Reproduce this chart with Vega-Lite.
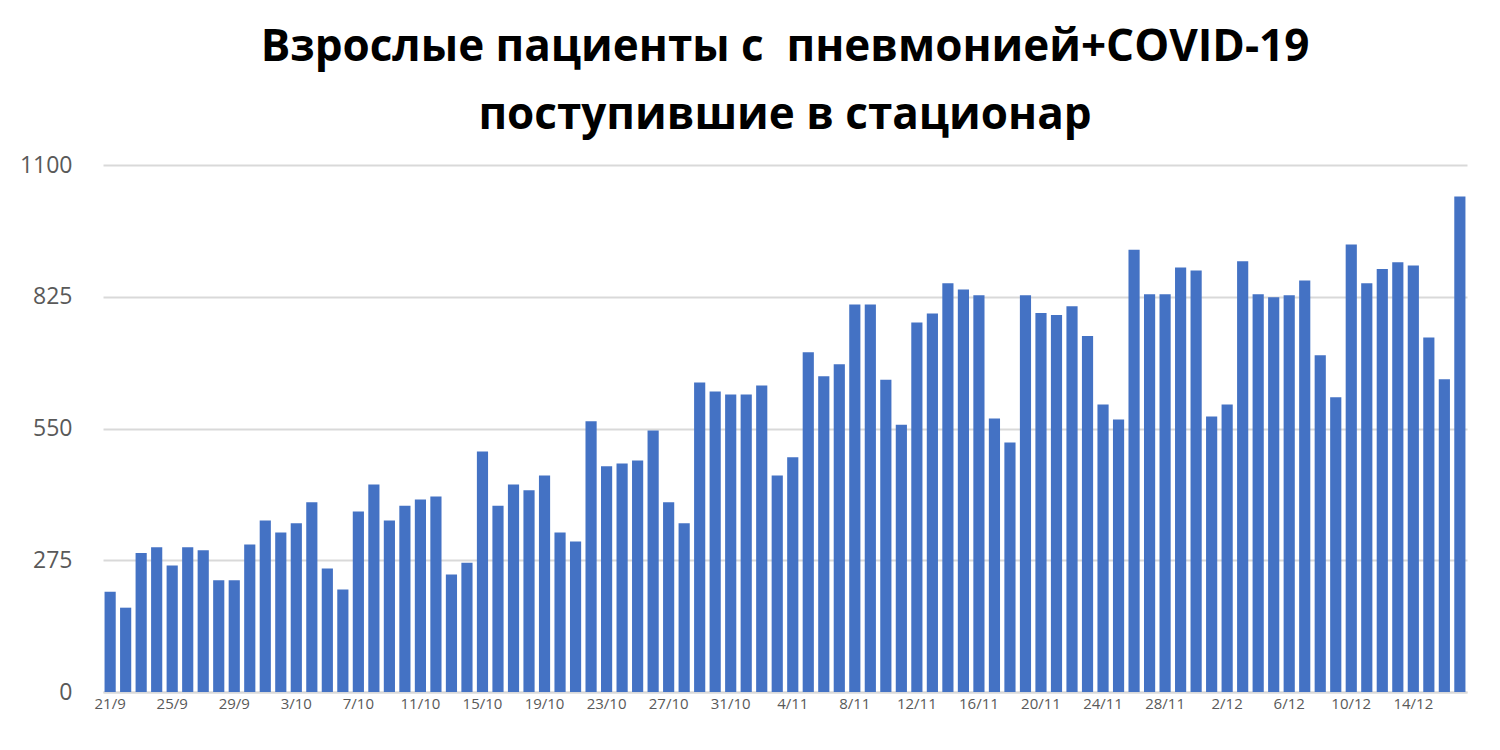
{
  "$schema": "https://vega.github.io/schema/vega-lite/v6.json",
  "autosize": {"type": "none"},
  "width": 1364,
  "height": 527,
  "padding": {"left": 103, "top": 165, "right": 33, "bottom": 58},
  "background": "white",
  "title": {
    "text": ["Взрослые пациенты с \u00a0пневмонией+COVID-19", "поступившие в стационар"],
    "font": "Open Sans",
    "fontSize": 44,
    "fontWeight": "bold",
    "color": "#000000",
    "lineHeight": 68,
    "anchor": "middle",
    "offset": 16
  },
  "data": {
    "values": [
      {"d": "21/9", "v": 209}, {"d": "22/9", "v": 176}, {"d": "23/9", "v": 290}, {"d": "24/9", "v": 302},
      {"d": "25/9", "v": 264}, {"d": "26/9", "v": 302}, {"d": "27/9", "v": 296}, {"d": "28/9", "v": 233},
      {"d": "29/9", "v": 233}, {"d": "30/9", "v": 308}, {"d": "1/10", "v": 358}, {"d": "2/10", "v": 333},
      {"d": "3/10", "v": 352}, {"d": "4/10", "v": 396}, {"d": "5/10", "v": 258}, {"d": "6/10", "v": 214},
      {"d": "7/10", "v": 377}, {"d": "8/10", "v": 433}, {"d": "9/10", "v": 358}, {"d": "10/10", "v": 389},
      {"d": "11/10", "v": 402}, {"d": "12/10", "v": 408}, {"d": "13/10", "v": 245}, {"d": "14/10", "v": 270},
      {"d": "15/10", "v": 502}, {"d": "16/10", "v": 389}, {"d": "17/10", "v": 433}, {"d": "18/10", "v": 421},
      {"d": "19/10", "v": 452}, {"d": "20/10", "v": 333}, {"d": "21/10", "v": 314}, {"d": "22/10", "v": 565},
      {"d": "23/10", "v": 471}, {"d": "24/10", "v": 477}, {"d": "25/10", "v": 483}, {"d": "26/10", "v": 546},
      {"d": "27/10", "v": 396}, {"d": "28/10", "v": 352}, {"d": "29/10", "v": 646}, {"d": "30/10", "v": 627},
      {"d": "31/10", "v": 621}, {"d": "1/11", "v": 621}, {"d": "2/11", "v": 640}, {"d": "3/11", "v": 452},
      {"d": "4/11", "v": 490}, {"d": "5/11", "v": 709}, {"d": "6/11", "v": 659}, {"d": "7/11", "v": 684},
      {"d": "8/11", "v": 809}, {"d": "9/11", "v": 809}, {"d": "10/11", "v": 652}, {"d": "11/11", "v": 558},
      {"d": "12/11", "v": 771}, {"d": "13/11", "v": 790}, {"d": "14/11", "v": 853}, {"d": "15/11", "v": 840},
      {"d": "16/11", "v": 828}, {"d": "17/11", "v": 571}, {"d": "18/11", "v": 521}, {"d": "19/11", "v": 828},
      {"d": "20/11", "v": 791}, {"d": "21/11", "v": 787}, {"d": "22/11", "v": 805}, {"d": "23/11", "v": 743},
      {"d": "24/11", "v": 600}, {"d": "25/11", "v": 569}, {"d": "26/11", "v": 923}, {"d": "27/11", "v": 830},
      {"d": "28/11", "v": 830}, {"d": "29/11", "v": 886}, {"d": "30/11", "v": 880}, {"d": "1/12", "v": 575},
      {"d": "2/12", "v": 600}, {"d": "3/12", "v": 899}, {"d": "4/12", "v": 830}, {"d": "5/12", "v": 824},
      {"d": "6/12", "v": 828}, {"d": "7/12", "v": 859}, {"d": "8/12", "v": 703}, {"d": "9/12", "v": 615},
      {"d": "10/12", "v": 934}, {"d": "11/12", "v": 853}, {"d": "12/12", "v": 883}, {"d": "13/12", "v": 897},
      {"d": "14/12", "v": 890}, {"d": "15/12", "v": 740}, {"d": "16/12", "v": 653}, {"d": "17/12", "v": 1034}
    ]
  },
  "mark": {"type": "bar", "color": "#4472C4"},
  "encoding": {
    "x": {
      "field": "d",
      "type": "nominal",
      "sort": null,
      "scale": {"paddingInner": 0.28, "paddingOuter": 0.1},
      "axis": {
        "title": null,
        "values": ["21/9", "25/9", "29/9", "3/10", "7/10", "11/10", "15/10", "19/10", "23/10", "27/10", "31/10", "4/11", "8/11", "12/11", "16/11", "20/11", "24/11", "28/11", "2/12", "6/12", "10/12", "14/12"],
        "labelAngle": 0,
        "labelFont": "Open Sans",
        "labelFontSize": 15,
        "labelColor": "#595959",
        "labelPadding": 4,
        "ticks": false,
        "domainColor": "#d9d9d9",
        "domainWidth": 2,
        "grid": false
      }
    },
    "y": {
      "field": "v",
      "type": "quantitative",
      "scale": {"domain": [0, 1100], "nice": false},
      "axis": {
        "title": null,
        "values": [0, 275, 550, 825, 1100],
        "format": "d",
        "labelFont": "Open Sans",
        "labelFontSize": 23,
        "labelColor": "#595959",
        "labelPadding": 31,
        "ticks": false,
        "domain": false,
        "grid": true,
        "gridColor": "#d9d9d9",
        "gridWidth": 2
      }
    }
  },
  "config": {"view": {"stroke": null}}
}
